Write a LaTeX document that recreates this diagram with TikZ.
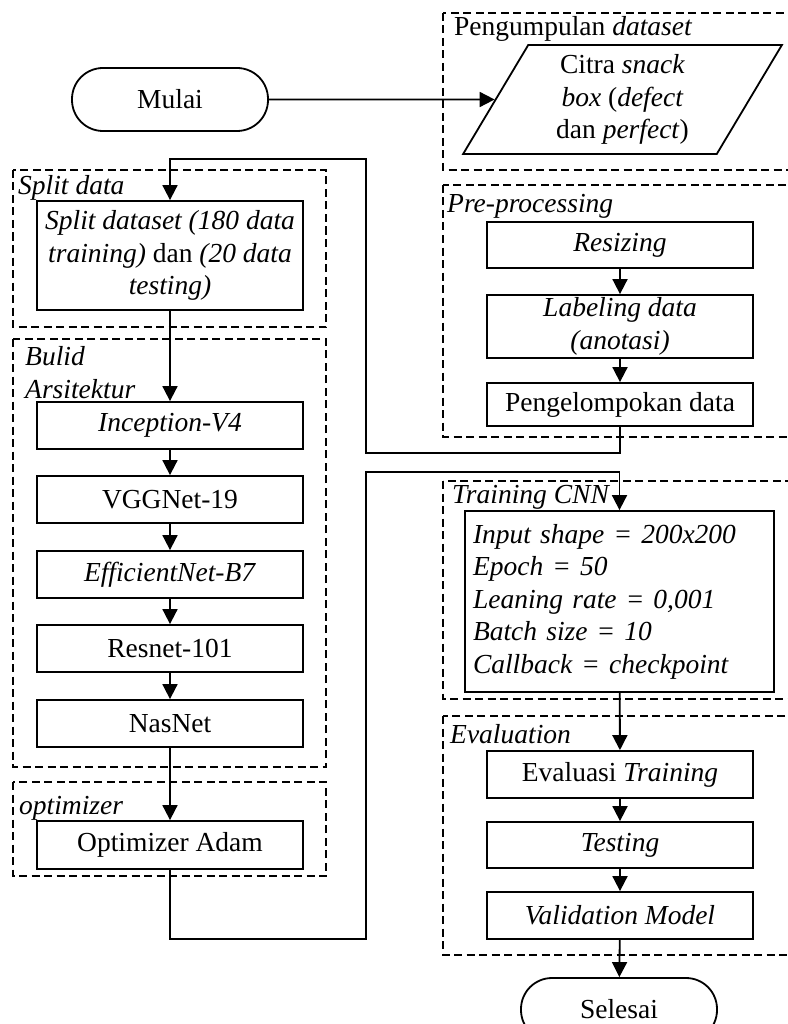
\documentclass[tikz,border=0pt]{standalone}
\usepackage{fontspec}
\setmainfont{Liberation Serif}
\usepackage{tikz}
\usetikzlibrary{positioning, shapes.geometric, arrows.meta}

\newcommand{\flowfont}{\fontsize{27.5}{32.5}\selectfont}

\tikzset{
  procbox/.style={draw, line width=1.8pt, minimum width=266pt, minimum height=47pt, inner sep=0pt, align=center},
  terminal/.style={draw, line width=1.8pt, rounded corners=31pt, minimum width=196pt, minimum height=63pt, inner sep=0pt},
  databox/.style={draw, line width=1.8pt, trapezium, trapezium left angle=63, trapezium right angle=117, trapezium stretches=true, minimum width=319pt, minimum height=109pt, inner sep=0pt, align=center},
  groupbox/.style={draw, line width=1.6pt, dash pattern=on 8pt off 4.5pt},
  grouplabel/.style={anchor=base west, inner sep=0pt, align=left},
  arr/.style={line width=1.8pt, -{Triangle[length=15pt, width=15pt]}},
}

\begin{document}
\begin{tikzpicture}[x=1pt, y=-1pt, every node/.style={font=\flowfont}]
\useasboundingbox (0,0) rectangle (787,1024);

% Group frames (left column)
\draw[groupbox] (13,170) rectangle (326,327);
\draw[groupbox] (13,339) rectangle (326,767);
\draw[groupbox] (13,782) rectangle (326,876);
% Group frames (right column)
\draw[groupbox] (443,13) rectangle (800,170);
\draw[groupbox] (443,185) rectangle (800,437);
\draw[groupbox] (443,481) rectangle (800,699);
\draw[groupbox] (443,716) rectangle (800,955);

% Group labels
\node[grouplabel] (lblsplit) at (18,195) {\textit{Split data}};
\node[grouplabel] (lblbuild) at (25,398) {\textit{Bulid}\\\textit{Arsitektur}};
\node[grouplabel] (lblopt) at (19,814) {\textit{optimizer}};
\node[grouplabel] (lblcollect) at (454,36) {Pengumpulan \textit{dataset}};
\node[grouplabel] (lblpre) at (447,213) {\textit{Pre-processing}};
\node[grouplabel] (lbltrain) at (452,503) {\textit{Training CNN}};
\node[grouplabel] (lbleval) at (450,743) {\textit{Evaluation}};

% Start and input data
\node[terminal] (mulai) at (170,99.5) {Mulai};
\node[databox] (citra) at (622.5,99.5) {Citra \textit{snack}\\\textit{box} (\textit{defect}\\dan \textit{perfect})};

% Pre-processing
\node[procbox, minimum height=46pt] (resize) at (620,245) {\textit{Resizing}};
\node[procbox, minimum height=63pt] (label) at (620,326.5) {\textit{Labeling data}\\\textit{(anotasi)}};
\node[procbox, minimum height=43pt] (kelompok) at (620,404.5) {Pengelompokan data};

% Split data
\node[procbox, minimum height=109pt] (split) at (170,255.5) {\textit{Split dataset (180 data}\\\textit{training)} dan \textit{(20 data}\\\textit{testing)}};

% Architectures
\node[procbox] (incep) at (170,425.5) {\textit{Inception-V4}};
\node[procbox] (vgg) at (170,499.5) {VGGNet-19};
\node[procbox] (effnet) at (170,574.5) {\textit{EfficientNet-B7}};
\node[procbox] (resnet) at (170,648.5) {Resnet-101};
\node[procbox] (nasnet) at (170,723.5) {NasNet};

% Optimizer
\node[procbox, minimum height=48pt] (adam) at (170,845) {Optimizer Adam};

% Training
\node[draw, line width=1.8pt, minimum width=309pt, minimum height=181pt, text width=293pt, inner xsep=8pt, inner ysep=0pt, align=left] (training) at (619.5,601.5)
  {\textit{Input shape = 200x200}\\\textit{Epoch = 50}\\\textit{Leaning rate = 0,001}\\\textit{Batch size = 10}\\\textit{Callback = checkpoint}};

% Evaluation
\node[procbox] (evaltrain) at (620,774.5) {Evaluasi \textit{Training}};
\node[procbox, minimum height=46pt] (testing) at (620,845) {\textit{Testing}};
\node[procbox] (valid) at (620,915.5) {\textit{Validation Model}};
\node[terminal] (selesai) at (619,1009.5) {Selesai};

% Connectors
\draw[arr] (mulai) -- (citra);
\foreach \a/\b in {resize/label, label/kelompok, split/incep, incep/vgg, vgg/effnet, effnet/resnet, resnet/nasnet, nasnet/adam, training/evaltrain, evaltrain/testing, testing/valid, valid/selesai} {
  \draw[arr] (\a) -- (\b);
}
% Loop back from pre-processing to split data
\coordinate (upA) at (366,453);
\coordinate (upB) at (366,159);
\draw[arr] (kelompok.south) |- (upA) -- (upB) -| (split.north);
% Loop from optimizer to training
\coordinate (downA) at (366,939);
\coordinate (downB) at (366,472);
\draw[arr] (adam.south) |- (downA) -- (downB) -| (training.north);

\end{tikzpicture}
\end{document}
